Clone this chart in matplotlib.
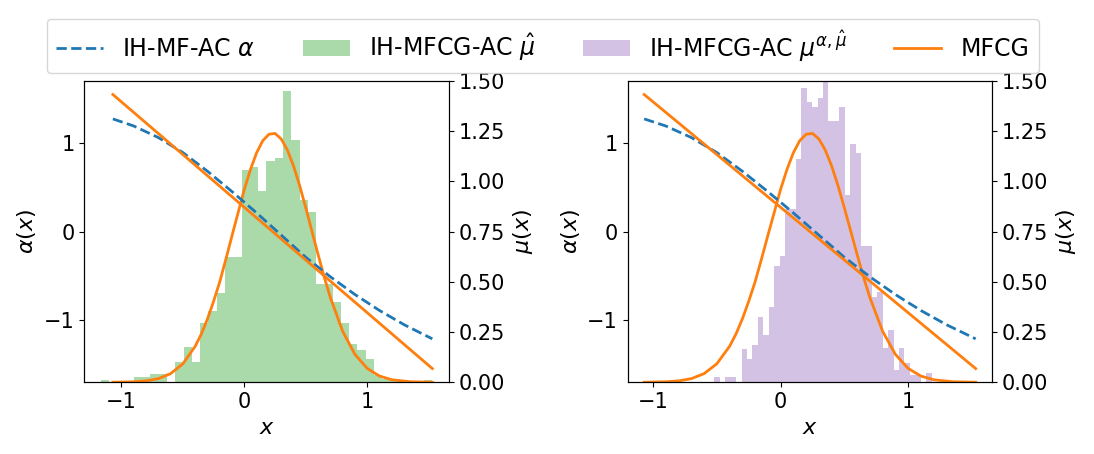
import numpy as np
import matplotlib
matplotlib.use("Agg")
import matplotlib.pyplot as plt
from matplotlib.ticker import MultipleLocator

plt.rcParams['font.size'] = 16

# control curves alpha(x), shared by both panels
x_ctrl = [-1.07, -0.9, -0.7, -0.5, -0.3, -0.1, 0.1, 0.3, 0.5, 0.7, 0.9, 1.1, 1.3, 1.53]
alpha_ihmf = [1.27, 1.19, 1.06, 0.89, 0.68, 0.45, 0.21, -0.04, -0.29, -0.51, -0.71, -0.89, -1.05, -1.21]
x_mfcg_ctrl = [-1.07, -0.5, 0.0, 0.5, 1.0, 1.53]
alpha_mfcg = [1.545, 0.868, 0.273, -0.321, -0.915, -1.545]

# MFCG density mu(x)
x_mu = [-1.07, -0.9, -0.8, -0.7, -0.6, -0.5, -0.4, -0.35, -0.3, -0.25, -0.2, -0.15, -0.1,
        -0.05, 0.0, 0.05, 0.1, 0.15, 0.2, 0.25, 0.3, 0.35, 0.4, 0.45, 0.5, 0.55, 0.6,
        0.65, 0.7, 0.8, 0.9, 1.0, 1.1, 1.2, 1.35, 1.53]
mu_mfcg = [0.0003, 0.0024, 0.007, 0.018, 0.043, 0.092, 0.179, 0.240, 0.315, 0.403, 0.50,
           0.613, 0.73, 0.845, 0.96, 1.059, 1.142, 1.202, 1.234, 1.238, 1.211, 1.156,
           1.077, 0.979, 0.868, 0.752, 0.636, 0.524, 0.422, 0.254, 0.139, 0.069, 0.031,
           0.0125, 0.0027, 0.0003]

# histogram of IH-MFCG-AC mu_hat (left panel)
hat_lo, hat_hi = -1.168, 1.527
hat_heights = [0.01, 0, 0, 0, 0.025, 0.025, 0.04, 0.04, 0, 0.10,
               0.175, 0.10, 0.295, 0.355, 0.445, 0.625, 0.625, 1.055, 1.07, 0.95,
               1.10, 1.117, 1.447, 1.205, 0.905, 0.845, 0.49, 0.49, 0.40, 0.295,
               0.19, 0.16, 0.115, 0.035, 0.017, 0.008, 0, 0, 0, 0.01]

# histogram of IH-MFCG-AC mu^{alpha, mu_hat} (right panel)
pol_lo, pol_hi = -0.519, 1.184
pol_heights = [0.028, 0, 0.028, 0.028, 0, 0.166, 0.118, 0.186, 0.327, 0.236,
               0.374, 0.58, 0.63, 0.86, 0.86, 1.11, 1.463, 1.393, 1.369, 1.413,
               1.52, 1.30, 1.30, 1.368, 0.931, 1.184, 1.139, 0.677, 0.677, 0.422,
               0.449, 0.170, 0.258, 0.061, 0.170, 0.097, 0.035, 0.035, 0, 0.045]


def panel(ax, lo, hi, heights, color, label):
    ax2 = ax.twinx()
    edges = np.linspace(lo, hi, len(heights) + 1)
    ax2.hist(edges[:-1], bins=edges, weights=heights, color=color, alpha=0.4, label=label)
    ax2.plot(x_mu, mu_mfcg, color='C1', lw=2)
    l1, = ax.plot(x_ctrl, alpha_ihmf, '--', color='C0', lw=2, label=r'IH-MF-AC $\alpha$')
    l2, = ax.plot(x_mfcg_ctrl, alpha_mfcg, color='C1', lw=2, label='MFCG')
    ax2.set_ylim(0, 1.5)
    ax.yaxis.set_major_locator(MultipleLocator(1))
    ax.set_zorder(ax2.get_zorder() + 1)
    ax.patch.set_visible(False)
    ax.set_xlabel(r'$x$')
    ax.set_ylabel(r'$\alpha(x)$')
    ax2.set_ylabel(r'$\mu(x)$')
    ax.tick_params(labelsize=15)
    ax2.tick_params(labelsize=15)
    return l1, ax2.patches[0], l2


fig, axes = plt.subplots(1, 2, figsize=(10.94, 4.54), dpi=100)
fig.subplots_adjust(left=0.077, right=0.907, bottom=0.158, top=0.822, wspace=0.49)

h1, p_hat, h2 = panel(axes[0], hat_lo, hat_hi, hat_heights, 'C2', r'IH-MFCG-AC $\hat{\mu}$')
_, p_pol, _ = panel(axes[1], pol_lo, pol_hi, pol_heights, 'C4', r'IH-MFCG-AC $\mu^{\alpha,\hat{\mu}}$')

fig.legend([h1, p_hat, p_pol, h2],
           [r'IH-MF-AC $\alpha$', r'IH-MFCG-AC $\hat{\mu}$',
            r'IH-MFCG-AC $\mu^{\alpha,\hat{\mu}}$', 'MFCG'],
           loc='upper center', bbox_to_anchor=(0.496, 0.985), ncol=4, fontsize=17)

plt.savefig('out.png')
